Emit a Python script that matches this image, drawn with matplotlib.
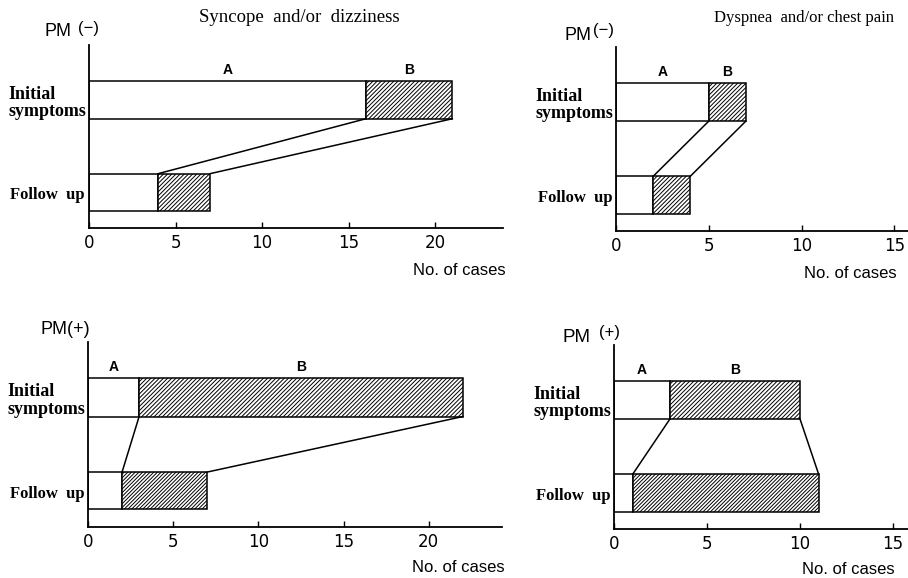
import matplotlib
matplotlib.use("Agg")
import matplotlib.pyplot as plt

# Number of cases: group A (open) and group B (hatched)
titles = ["Syncope  and/or  dizziness", "Dyspnea  and/or chest pain"]
row_labels = ["Initial\nsymptoms", "Follow  up"]
xlabel = "No. of cases"

syncope_neg_initial = [16, 5]
syncope_neg_follow = [4, 3]
dyspnea_neg_initial = [5, 2]
dyspnea_neg_follow = [2, 2]
syncope_pos_initial = [3, 19]
syncope_pos_follow = [2, 5]
dyspnea_pos_initial = [3, 7]
dyspnea_pos_follow = [1, 10]

ticks_syncope = [0, 5, 10, 15, 20]
ticks_dyspnea = [0, 5, 10, 15]
tick_labels_syncope = ["0", "5", "10", "15", "20"]
tick_labels_dyspnea = ["0", "5", "10", "15"]

plt.rcParams["hatch.linewidth"] = 0.7

W, H = 908, 578
fig = plt.figure(figsize=(W / 100, H / 100), dpi=100)
fig.patch.set_facecolor("white")


def px_axes(x0, y0, x1, y1):
    return fig.add_axes([x0 / W, 1 - y1 / H, (x1 - x0) / W, (y1 - y0) / H])


HATCH = "/" * 8
panels = [
    dict(box=(89, 45, 503, 228), xmax=23.93, ticks=ticks_syncope,
         tlabels=tick_labels_syncope, init=syncope_neg_initial,
         follow=syncope_neg_follow, fhatch=HATCH),
    dict(box=(616, 47, 908, 231), xmax=15.74, ticks=ticks_dyspnea,
         tlabels=tick_labels_dyspnea, init=dyspnea_neg_initial,
         follow=dyspnea_neg_follow, fhatch=HATCH),
    dict(box=(88, 342, 502, 527), xmax=24.3, ticks=ticks_syncope,
         tlabels=tick_labels_syncope, init=syncope_pos_initial,
         follow=syncope_pos_follow, fhatch="/" * 9),
    dict(box=(614, 345, 908, 529), xmax=15.8, ticks=ticks_dyspnea,
         tlabels=tick_labels_dyspnea, init=dyspnea_pos_initial,
         follow=dyspnea_pos_follow, fhatch="/" * 9),
]

INIT_Y, INIT_H = 5.97, 2.06
FOL_Y, FOL_H = 0.95, 2.02
LW = 1.1

serif = "Liberation Serif"
sans = "Liberation Sans"

for p in panels:
    ax = px_axes(*p["box"])
    ax.set_xlim(0, p["xmax"])
    ax.set_ylim(0, 10)
    for s in ("top", "right"):
        ax.spines[s].set_visible(False)
    for s in ("left", "bottom"):
        ax.spines[s].set_linewidth(1.3)
    ax.set_yticks([])
    ax.set_xticks(p["ticks"])
    ax.set_xticklabels(p["tlabels"], fontfamily="DejaVu Sans", fontsize=12)
    ax.tick_params(axis="x", direction="in", length=4, width=1, pad=4)

    a_i, b_i = p["init"]
    a_f, b_f = p["follow"]

    ax.barh(INIT_Y, a_i, height=INIT_H, left=0, align="edge",
            color="white", edgecolor="black", linewidth=LW)
    ax.barh(INIT_Y, b_i, height=INIT_H, left=a_i, align="edge",
            color="white", edgecolor="black", linewidth=LW, hatch=HATCH)
    ax.barh(FOL_Y, a_f, height=FOL_H, left=0, align="edge",
            color="white", edgecolor="black", linewidth=LW)
    ax.barh(FOL_Y, b_f, height=FOL_H, left=a_f, align="edge",
            color="white", edgecolor="black", linewidth=LW, hatch=p["fhatch"])

    # connectors between the two bars
    ax.plot([a_i, a_f], [INIT_Y, FOL_Y + FOL_H], color="black", lw=LW)
    ax.plot([a_i + b_i, a_f + b_f], [INIT_Y, FOL_Y + FOL_H], color="black", lw=LW)

    # group letters over the initial bar
    ax.annotate("A", xy=(a_i / 2, INIT_Y + INIT_H), xytext=(0, 4),
                textcoords="offset pixels", ha="center", va="bottom",
                fontfamily=sans, fontweight="bold", fontsize=10)
    ax.annotate("B", xy=(a_i + b_i / 2, INIT_Y + INIT_H), xytext=(0, 4),
                textcoords="offset pixels", ha="center", va="bottom",
                fontfamily=sans, fontweight="bold", fontsize=10)

    # row labels
    ax.annotate(row_labels[0], xy=(0, INIT_Y + INIT_H / 2),
                xycoords=("axes fraction", "data"), xytext=(-3, -3),
                textcoords="offset pixels", ha="right", va="center",
                multialignment="left", fontfamily=serif, fontweight="bold",
                fontsize=13, linespacing=1.0, annotation_clip=False)
    ax.annotate(row_labels[1], xy=(0, FOL_Y + FOL_H / 2),
                xycoords=("axes fraction", "data"), xytext=(-4, -3),
                textcoords="offset pixels", ha="right", va="center",
                fontfamily=serif, fontweight="bold", fontsize=12,
                annotation_clip=False)


def ftext(x, y, s, **kw):
    fig.text(x / W, 1 - y / H, s, **kw)


# column titles
ftext(299, 18, titles[0], ha="center", va="center", fontfamily=serif, fontsize=13.5)
ftext(804, 18, titles[1], ha="center", va="center", fontfamily=serif, fontsize=12)

# group headings
ftext(45, 32, "PM", ha="left", va="center", fontfamily=sans, fontsize=13)
ftext(78, 28, "(−)", ha="left", va="center", fontfamily=sans, fontsize=12)
ftext(565, 35, "PM", ha="left", va="center", fontfamily=sans, fontsize=13)
ftext(593, 31, "(−)", ha="left", va="center", fontfamily=sans, fontsize=12)
ftext(40, 330, "PM(+)", ha="left", va="center", fontfamily=sans, fontsize=13)
ftext(563, 337, "PM", ha="left", va="center", fontfamily=sans, fontsize=13.5)
ftext(599, 333, "(+)", ha="left", va="center", fontfamily=sans, fontsize=12)

# axis captions
for x, y in [(459, 270), (850, 273), (458, 567), (848, 569)]:
    ftext(x, y, xlabel, ha="center", va="center", fontfamily=sans, fontsize=12)

fig.savefig("out.png", dpi=100)
